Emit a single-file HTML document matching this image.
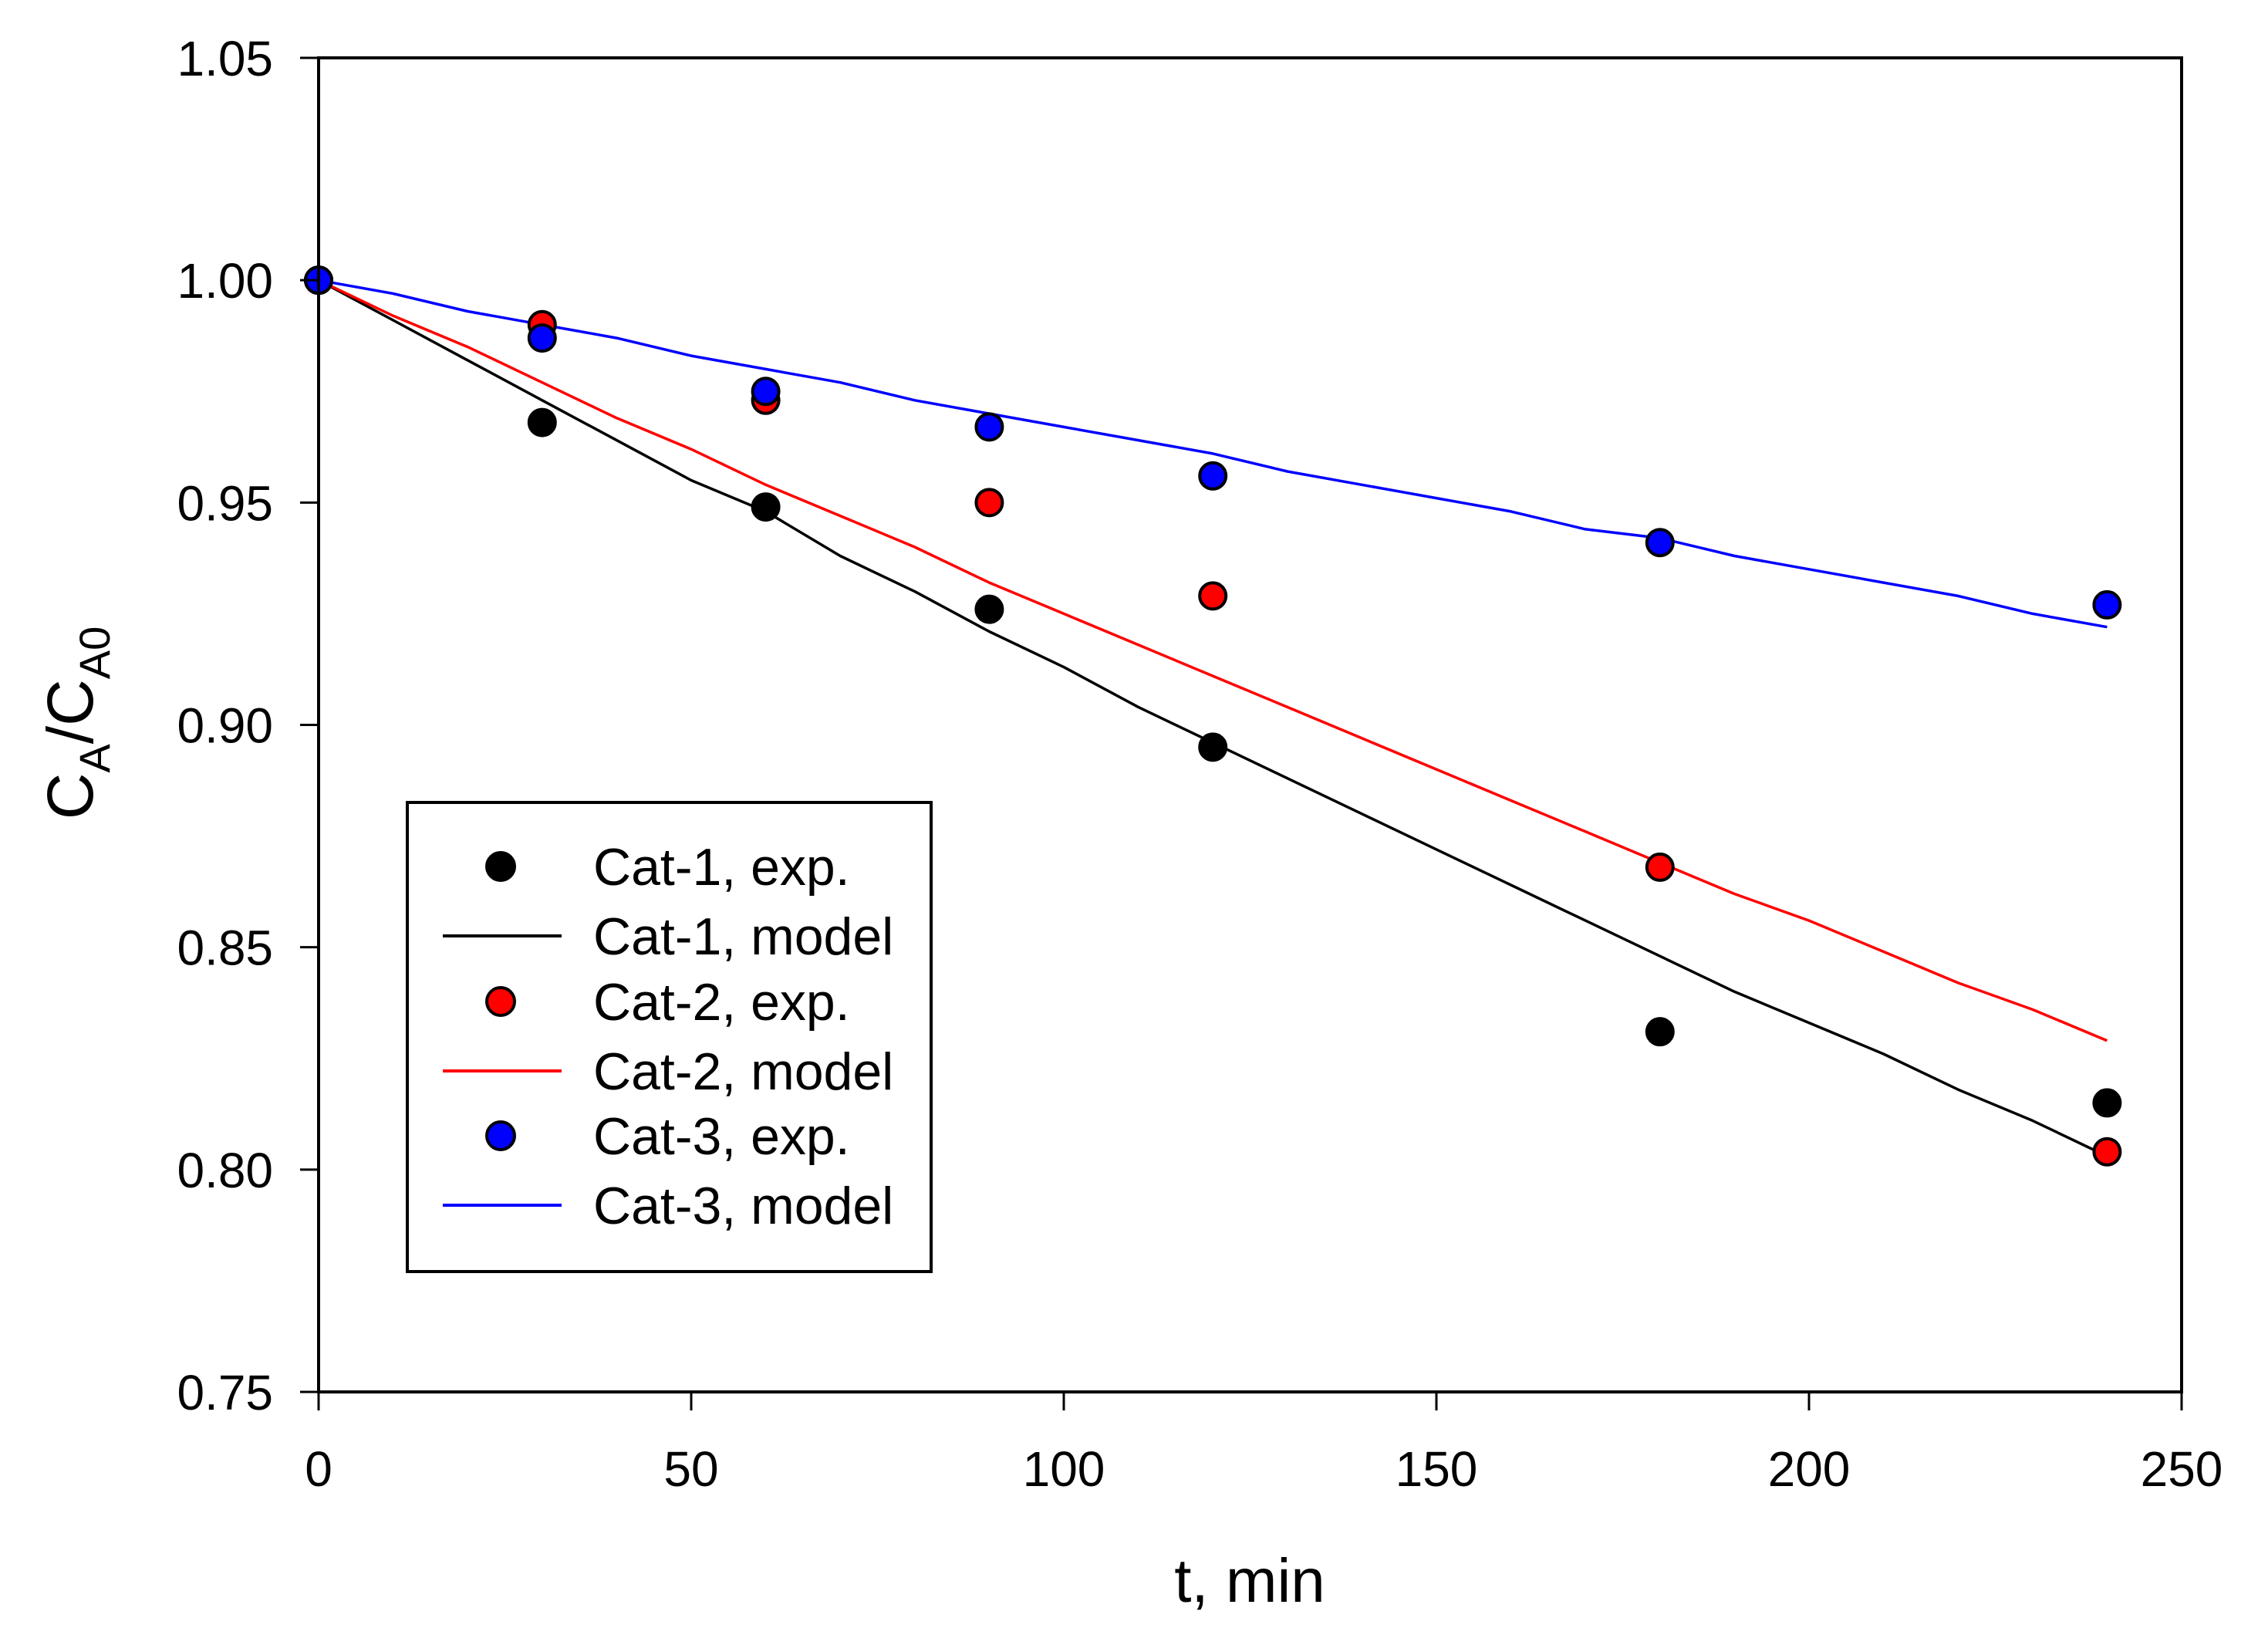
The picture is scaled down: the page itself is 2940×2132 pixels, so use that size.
<!DOCTYPE html>
<html><head><meta charset="utf-8"><style>
html,body{margin:0;padding:0;background:#fff;}
svg{display:block;font-family:"Liberation Sans",Arial,sans-serif;}
</style></head><body>
<svg id="chart" width="2940" height="2132" viewBox="0 0 2940 2132" xmlns="http://www.w3.org/2000/svg">
<rect x="0" y="0" width="2940" height="2132" fill="#fff"/>
<g id="plot"></g>
<g id="axes"></g>
<text x="1620" y="2076" font-size="80" text-anchor="middle">t, min</text>
<text transform="translate(120,937) rotate(-90)" font-size="84" text-anchor="middle">C<tspan font-size="56" dy="22">A</tspan><tspan dy="-22">/C</tspan><tspan font-size="56" dy="22">A0</tspan></text>
<g id="legend">
<rect x="528" y="1040" width="679" height="608" fill="#fff" stroke="#000" stroke-width="4"/>
</g>
</svg>
<script>
const xTicks=[0,50,100,150,200,250];
const yTicks=[0.75,0.80,0.85,0.90,0.95,1.00,1.05];
const yTickLabels=["0.75","0.80","0.85","0.90","0.95","1.00","1.05"];
const expT=[0,30,60,90,120,180,240];
const cat1Exp=[1.000,0.968,0.949,0.926,0.895,0.831,0.815];
const cat2Exp=[1.000,0.990,0.973,0.950,0.929,0.868,0.804];
const cat3Exp=[1.000,0.987,0.975,0.967,0.956,0.941,0.927];
const modelT=[0,10,20,30,40,50,60,70,80,90,100,110,120,130,140,150,160,170,180,190,200,210,220,230,240];
const cat1Model=[1.0,0.991,0.982,0.973,0.964,0.955,0.948,0.938,0.930,0.921,0.913,0.904,0.896,0.888,0.880,0.872,0.864,0.856,0.848,0.840,0.833,0.826,0.818,0.811,0.803];
const cat2Model=[1.0,0.992,0.985,0.977,0.969,0.962,0.954,0.947,0.940,0.932,0.925,0.918,0.911,0.904,0.897,0.890,0.883,0.876,0.869,0.862,0.856,0.849,0.842,0.836,0.829];
const cat3Model=[1.0,0.997,0.993,0.990,0.987,0.983,0.980,0.977,0.973,0.970,0.967,0.964,0.961,0.957,0.954,0.951,0.948,0.944,0.942,0.938,0.935,0.932,0.929,0.925,0.922];

const NS="http://www.w3.org/2000/svg";
const X0=413,X1=2828,Y0=1804,Y1=75;
function xs(v){return X0+(v-0)/(250-0)*(X1-X0);}
function ys(v){return Y0-(v-0.75)/(1.05-0.75)*(Y0-Y1);}
function mk(tag,attrs,parent){const e=document.createElementNS(NS,tag);for(const k in attrs)e.setAttribute(k,attrs[k]);parent.appendChild(e);return e;}
const plot=document.getElementById('plot'),axes=document.getElementById('axes'),legend=document.getElementById('legend');

// frame
let fr=mk('rect',{x:X0,y:Y1,width:X1-X0,height:Y0-Y1,fill:'none',stroke:'#000','stroke-width':4},axes);


xTicks.forEach((t,i)=>{
  const l=mk('line',{x1:xs(t),x2:xs(t),y1:Y0,y2:Y0+24,stroke:'#000','stroke-width':3},axes);
  
  
  const tx=mk('text',{x:xs(t),y:1926,'font-size':64,'text-anchor':'middle'},axes);
  tx.textContent=String(t);
  
  
});
yTicks.forEach((t,i)=>{
  const l=mk('line',{x1:X0-24,x2:X0,y1:ys(t),y2:ys(t),stroke:'#000','stroke-width':3},axes);
  
  
  const tx=mk('text',{x:354,y:ys(t)+23,'font-size':64,'text-anchor':'end'},axes);
  tx.textContent=yTickLabels[i];
  
  
});
function line(vals,color,name){
  const pts=modelT.map((t,i)=>xs(t).toFixed(1)+','+ys(vals[i]).toFixed(1)).join(' ');
  const p=mk('polyline',{points:pts,fill:'none',stroke:color,'stroke-width':3.5,'stroke-linejoin':'round'},plot);
  
  
}
function dots(vals,color,name){
  expT.forEach((t,i)=>{
    const c=mk('circle',{cx:xs(t),cy:ys(vals[i]),r:17,fill:color,stroke:'#000','stroke-width':4},plot);
    
    
  });
}
line(cat1Model,'#000','cat1-model-line');
line(cat2Model,'#ff0000','cat2-model-line');
line(cat3Model,'#0000ff','cat3-model-line');
dots(cat1Exp,'#000','cat1-exp-point');
dots(cat2Exp,'#ff0000','cat2-exp-point');
dots(cat3Exp,'#0000ff','cat3-exp-point');

const legRows=[['Cat-1, exp.','dot','#000'],['Cat-1, model','line','#000'],['Cat-2, exp.','dot','#ff0000'],['Cat-2, model','line','#ff0000'],['Cat-3, exp.','dot','#0000ff'],['Cat-3, model','line','#0000ff']];
const legY=[1123,1213,1298,1388,1472,1562];
legRows.forEach((r,i)=>{
  const y=legY[i];
  if(r[1]==='dot'){
    const c=mk('circle',{cx:649,cy:y,r:18,fill:r[2],stroke:'#000','stroke-width':4},legend);
    
    
  }else{
    const l=mk('line',{x1:574,x2:728,y1:y,y2:y,stroke:r[2],'stroke-width':4},legend);
    
    
  }
  const tx=mk('text',{x:769,y:y+24,'font-size':68},legend);
  tx.textContent=r[0];
  
  
});
</script>
</body></html>
